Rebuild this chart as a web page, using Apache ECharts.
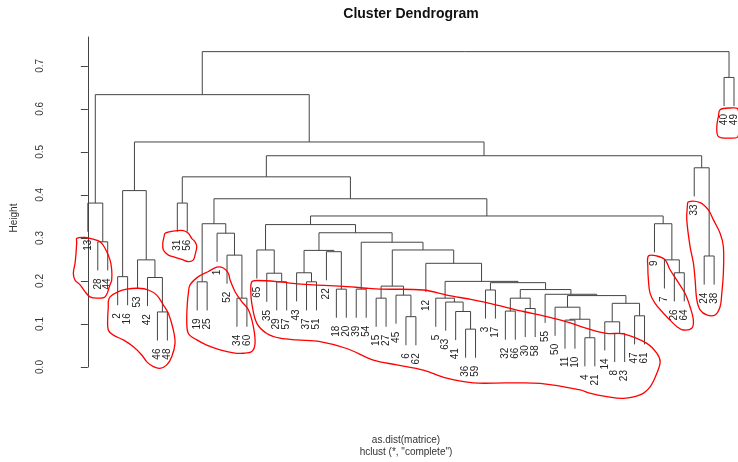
<!DOCTYPE html>
<html><head><meta charset="utf-8">
<script src="https://cdn.jsdelivr.net/npm/echarts@6/dist/echarts.min.js"></script>
<style>html,body{margin:0;padding:0;background:#fff}#c{width:738px;height:462px}</style>
</head><body><div id="c"></div>
<script>
// Leaf labels in plotting order (left to right)
const leafOrder = [13,28,44,2,16,53,42,46,48,31,56,19,25,1,52,34,60,65,35,29,57,43,37,51,22,18,20,39,54,15,27,45,6,62,12,5,63,41,36,59,3,17,32,66,30,58,55,50,11,10,4,21,14,8,23,47,61,9,7,26,64,33,24,38,40,49];

// hclust merge table (R convention: negative = observation, positive = earlier merge step)
const mergeLeft  = [-28,-13,-46,-42,-53,-2, 6,-31,-19,-34,-52,-1, 9,-29,-35,-65,-37,-43,-18,-22,18,-39,-15,-6,-45,23,-36,-41,-63,-5,-3,-32,-30,32,-4,-11,36,-50,-8,-14,-47,40,38,-55,34,31,30,-12,26,22,21,16,-26,-7,-9,52,13, 8,-24,-33,58, 7, 2,-40,63];
const mergeRight = [-44,  1,-48,  3,  4,-16,5,-56,-25,-60, 10,11,12,-57, 14, 15,-51, 17,-20, 19,20,-54,-27,-62,24,25,-59, 27, 28,29,-17,-66,-58,33,-21,-10,35,37,-23,39,-61,41,42,43,44,45,46,47,48,49,50,51,-64,53,54,55,56,57,-38,59,60,61,62,-49,64];
const mergeHeight = [0.291,0.381,0.128,0.208,0.249,0.210,0.410,0.381,0.198,0.160,0.260,0.311,0.333,0.198,0.218,0.272,0.198,0.219,0.181,0.268,0.271,0.181,0.160,0.117,0.167,0.188,0.088,0.129,0.151,0.160,0.179,0.130,0.136,0.160,0.068,0.109,0.111,0.139,0.078,0.105,0.119,0.148,0.166,0.169,0.180,0.196,0.199,0.241,0.272,0.290,0.312,0.331,0.219,0.249,0.333,0.351,0.391,0.442,0.258,0.463,0.491,0.523,0.633,0.673,0.733];

const yTicks = [0, 0.1, 0.2, 0.3, 0.4, 0.5, 0.6, 0.7];
const hangFraction = 0.1;

// Hand-drawn red annotation outlines, in data units [leaf position, height]
const ann1 = [[-1.12,0.299],[-0.28,0.301],[0.55,0.297],[1.23,0.291],[1.73,0.276],[2.23,0.249],[2.4,0.226],[2.4,0.202],[2.23,0.191],[1.73,0.163],[0.9,0.16],[0.22,0.163],[-0.28,0.175],[-0.78,0.191],[-1.29,0.202],[-1.46,0.218],[-1.29,0.241],[-1.19,0.264],[-1.12,0.291]];
const ann2 = [[2.06,0.152],[2.23,0.163],[3.07,0.175],[3.91,0.181],[5.08,0.183],[6.09,0.179],[6.93,0.167],[7.6,0.144],[8.1,0.125],[8.6,0.086],[8.77,0.055],[8.44,0.024],[7.94,0.005],[7.26,-0.003],[6.59,0.001],[5.93,0.012],[5.42,0.028],[4.58,0.047],[3.57,0.063],[2.57,0.074],[2.06,0.086],[2.0,0.117],[2.06,0.14]];
const ann3 = [[7.77,0.311],[8.6,0.316],[9.61,0.317],[10.11,0.311],[10.45,0.299],[10.78,0.291],[10.96,0.28],[10.78,0.26],[10.61,0.249],[10.11,0.245],[9.45,0.25],[8.77,0.255],[8.1,0.26],[7.6,0.272],[7.54,0.288],[7.67,0.303]];
const ann4 = [[10.28,0.191],[11.12,0.21],[12.12,0.222],[12.97,0.232],[13.63,0.23],[14.13,0.218],[14.31,0.202],[14.81,0.175],[15.48,0.152],[16.15,0.133],[16.65,0.094],[16.82,0.055],[16.49,0.036],[15.64,0.032],[14.64,0.033],[13.3,0.04],[11.96,0.051],[10.96,0.063],[10.11,0.078],[9.95,0.109],[10.01,0.148],[10.11,0.171]];
const ann5 = [[16.49,0.198],[16.99,0.201],[19.34,0.198],[20.34,0.195],[22.69,0.191],[26.05,0.187],[28.06,0.183],[29.4,0.181],[33.75,0.179],[36.11,0.167],[38.78,0.156],[41.14,0.144],[43.81,0.129],[46.17,0.117],[48.18,0.105],[50.19,0.09],[52.2,0.078],[53.87,0.077],[56.23,0.055],[57.23,0.032],[57.57,0.012],[57.23,-0.015],[56.56,-0.046],[55.55,-0.065],[53.87,-0.073],[52.2,-0.069],[50.49,-0.061],[49.52,-0.053],[45.49,-0.038],[42.14,-0.037],[38.78,-0.037],[36.11,-0.026],[33.75,-0.007],[31.08,0.005],[28.72,0.016],[26.05,0.043],[23.36,0.059],[21.02,0.063],[19.34,0.067],[18.0,0.078],[16.99,0.102],[16.49,0.148],[16.39,0.179]];
const ann6 = [[56.39,0.258],[57.23,0.258],[58.07,0.249],[58.57,0.226],[59.24,0.202],[60.08,0.171],[60.58,0.14],[60.91,0.109],[60.75,0.09],[59.91,0.086],[59.24,0.094],[58.57,0.109],[57.9,0.125],[57.06,0.148],[56.56,0.171],[56.39,0.202],[56.33,0.233]];
const ann7 = [[60.41,0.384],[61.59,0.382],[62.42,0.365],[62.93,0.342],[63.6,0.311],[63.93,0.28],[63.93,0.218],[63.77,0.171],[63.6,0.14],[63.1,0.121],[62.26,0.121],[61.59,0.133],[61.26,0.156],[61.09,0.202],[60.92,0.241],[60.58,0.28],[60.25,0.342],[60.31,0.373]];
const ann8 = [[63.6,0.598],[64.61,0.602],[65.41,0.599],[65.41,0.536],[64.61,0.532],[63.43,0.536],[63.27,0.559],[63.43,0.582]];
const annotations = [ann1, ann2, ann3, ann4, ann5, ann6, ann7, ann8];

// ---- build dendrogram geometry (data units) ----
const leafPos = {};
leafOrder.forEach((lab, i) => { leafPos[lab] = i; });
const hMin = Math.min(...mergeHeight), hMax = Math.max(...mergeHeight);
const hang = hangFraction * (hMax - hMin);
const nodeX = [], nodeH = [];
const segData = [], leafData = [];
for (let k = 0; k < mergeHeight.length; k++) {
  const h = mergeHeight[k];
  const info = ref => ref < 0 ? { x: leafPos[-ref], leaf: true, label: -ref } : { x: nodeX[ref - 1], h: nodeH[ref - 1], leaf: false };
  const L = info(mergeLeft[k]), R = info(mergeRight[k]);
  const hl = L.leaf ? h - hang : L.h;
  const hr = R.leaf ? h - hang : R.h;
  if (L.leaf) leafData.push([L.x, h - hang, L.label]);
  if (R.leaf) leafData.push([R.x, h - hang, R.label]);
  nodeX[k] = (L.x + R.x) / 2;
  nodeH[k] = h;
  segData.push([L.x, R.x, hl, hr, h]);
}

const FONT = '"Liberation Sans", Arial, Helvetica, sans-serif';
const chart = echarts.init(document.getElementById('c'), null, { renderer: 'canvas' });
chart.setOption({
  animation: false,
  backgroundColor: '#ffffff',
  grid: { left: 62, right: 4, top: 37, bottom: 95, containLabel: false, outerBoundsMode: 'none' },
  xAxis: { type: 'value', min: -2.6, max: 65, show: false },
  yAxis: {
    type: 'value', min: 0, max: 0.767,
    axisLine: { show: true, lineStyle: { color: '#444', width: 1 } },
    axisTick: { show: true, length: 7, customValues: yTicks, lineStyle: { color: '#444', width: 1 } },
    axisLabel: { show: true, rotate: 90, customValues: yTicks, formatter: v => Number(v).toFixed(1), fontSize: 10, color: '#333', margin: 17, fontFamily: FONT },
    splitLine: { show: false }
  },
  graphic: [
    { type: 'text', x: 411, y: 14, style: { text: 'Cluster Dendrogram', font: 'bold 14px ' + FONT, fill: '#111', align: 'center', verticalAlign: 'middle' } },
    { type: 'text', x: 406, y: 440, style: { text: 'as.dist(matrice)', font: '10px ' + FONT, fill: '#333', align: 'center', verticalAlign: 'middle' } },
    { type: 'text', x: 406, y: 452, style: { text: 'hclust (*, "complete")', font: '10px ' + FONT, fill: '#333', align: 'center', verticalAlign: 'middle' } },
    { type: 'text', x: 14, y: 218, rotation: Math.PI / 2, style: { text: 'Height', font: '10px ' + FONT, fill: '#333', align: 'center', verticalAlign: 'middle' } }
  ],
  series: [
    {
      type: 'custom', name: 'tree', data: segData, silent: true,
      encode: { x: [0, 1], y: [2, 3, 4] },
      renderItem: (params, api) => {
        const p1 = api.coord([api.value(0), api.value(2)]);
        const p2 = api.coord([api.value(0), api.value(4)]);
        const p3 = api.coord([api.value(1), api.value(4)]);
        const p4 = api.coord([api.value(1), api.value(3)]);
        return { type: 'polyline', shape: { points: [p1, p2, p3, p4] }, style: { stroke: '#444', lineWidth: 1, fill: null } };
      }
    },
    {
      type: 'custom', name: 'labels', data: leafData, silent: true,
      encode: { x: 0, y: 1 },
      renderItem: (params, api) => {
        const p = api.coord([api.value(0), api.value(1)]);
        return { type: 'text', x: p[0], y: p[1] + 8, rotation: Math.PI / 2,
          style: { text: String(leafData[params.dataIndex][2]), align: 'right', verticalAlign: 'middle', font: '10px ' + FONT, fill: '#222' } };
      }
    },
    {
      type: 'custom', name: 'annotations', data: annotations.map((a, i) => [a[0][0], a[0][1]]), silent: true,
      renderItem: (params, api) => {
        const pts = annotations[params.dataIndex].map(p => api.coord(p));
        return { type: 'polygon', shape: { points: pts, smooth: 0.35 }, style: { stroke: '#ff0000', lineWidth: 1.3, fill: null } };
      }
    }
  ]
});
</script></body></html>
